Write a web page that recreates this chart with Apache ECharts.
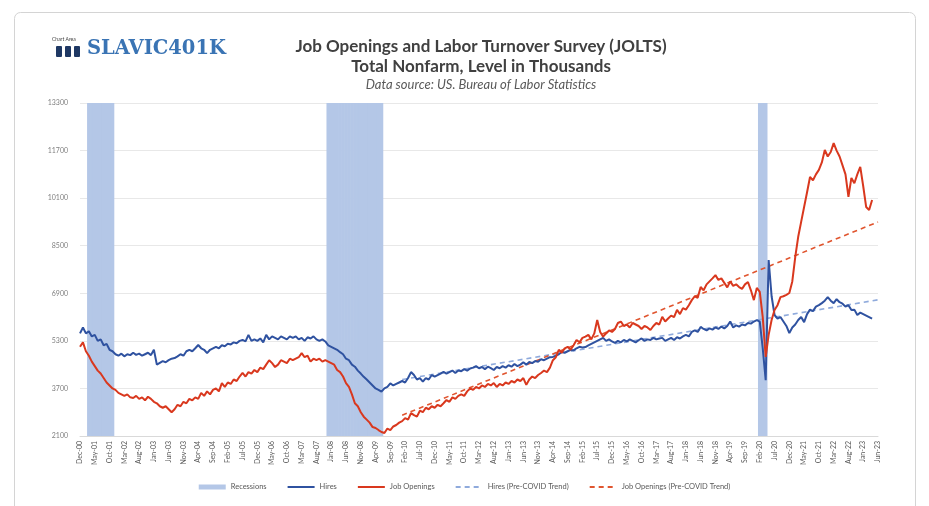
<!DOCTYPE html>
<html>
<head>
<meta charset="utf-8">
<script src="https://cdn.jsdelivr.net/npm/echarts@6/dist/echarts.min.js"></script>
<style>
html,body{margin:0;padding:0;background:#fff;}
#chart{width:929px;height:506px;}
</style>
</head>
<body>
<div id="chart"></div>
<script>
// ---- categories: Dec-00 .. Jun-23 (monthly) ----
const monthNames = ['Jan','Feb','Mar','Apr','May','Jun','Jul','Aug','Sep','Oct','Nov','Dec'];
const categories = [];
for (let i = 0; i < 271; i++) {
  const t = 11 + i; // months since Jan-2000
  const y = 2000 + Math.floor(t / 12);
  categories.push(monthNames[t % 12] + '-' + String(y % 100).padStart(2, '0'));
}

// ---- y-axis ticks ----
const yTicks = [2100, 3700, 5300, 6900, 8500, 10100, 11700, 13300];

// ---- recession periods (NBER) ----
const recessions = [['Mar-01', 'Nov-01'], ['Dec-07', 'Jun-09'], ['Feb-20', 'Apr-20']];

// ---- Hires, thousands ----
const hires = [
  5550,
  5750, 5550, 5620, 5450, 5500, 5300, 5350, 5150, 5200, 5000, 4950, 4850, // 2001
  4800, 4870, 4780, 4850, 4820, 4900, 4830, 4870, 4800, 4850, 4900, 4820, // 2002
  5000, 4500, 4560, 4620, 4580, 4650, 4700, 4720, 4780, 4850, 4800, 4950, // 2003
  5000, 4950, 5050, 5160, 5050, 5000, 4890, 5000, 5050, 5100, 5050, 5150, // 2004
  5120, 5200, 5180, 5250, 5220, 5300, 5330, 5280, 5500, 5300, 5350, 5300, // 2005
  5380, 5250, 5500, 5350, 5450, 5400, 5350, 5450, 5400, 5350, 5450, 5400, // 2006
  5450, 5350, 5400, 5300, 5420, 5380, 5450, 5350, 5300, 5350, 5280, 5150, // 2007
  5100, 5050, 5000, 4920, 4850, 4700, 4650, 4500, 4430, 4300, 4200, 4090, // 2008
  4000, 3900, 3800, 3700, 3650, 3590, 3700, 3750, 3870, 3800, 3850, 3900, // 2009
  3950, 3900, 4050, 4250, 4150, 4000, 4050, 3930, 4050, 4000, 4150, 4100, // 2010
  4150, 4200, 4260, 4200, 4250, 4300, 4220, 4300, 4280, 4350, 4300, 4370, // 2011
  4400, 4450, 4380, 4420, 4350, 4430, 4380, 4320, 4420, 4380, 4450, 4400, // 2012
  4480, 4430, 4520, 4450, 4500, 4580, 4500, 4590, 4550, 4620, 4600, 4680, // 2013
  4650, 4700, 4750, 4760, 4800, 4850, 4930, 4900, 4950, 5000, 4980, 5050, // 2014
  5100, 5080, 5090, 5150, 5200, 5250, 5300, 5350, 5400, 5300, 5350, 5280, // 2015
  5230, 5300, 5250, 5330, 5280, 5350, 5300, 5250, 5320, 5380, 5300, 5350, // 2016
  5330, 5400, 5350, 5380, 5400, 5300, 5350, 5400, 5330, 5420, 5380, 5450, // 2017
  5500, 5450, 5600, 5650, 5600, 5770, 5700, 5650, 5720, 5680, 5750, 5700, // 2018
  5780, 5720, 5800, 5950, 5750, 5820, 5780, 5850, 5820, 5900, 5880, 5950, // 2019
  6000, 5950, 5050, 3980, 8020, 6800, 6170, 6050, 6100, 5950, 5800, 5560, // 2020
  5750, 5850, 6000, 6100, 5930, 6200, 6350, 6300, 6450, 6500, 6570, 6650, // 2021
  6770, 6650, 6570, 6700, 6600, 6550, 6450, 6500, 6340, 6350, 6170, 6250, // 2022
  6200, 6150, 6100, 6050, null, null                                      // 2023
];

// ---- Job Openings, thousands ----
const openings = [
  5100,
  5250, 4950, 4800, 4600, 4450, 4300, 4200, 4050, 3900, 3800, 3700, 3650, // 2001
  3550, 3500, 3450, 3500, 3400, 3380, 3450, 3350, 3400, 3300, 3420, 3350, // 2002
  3250, 3200, 3100, 3050, 3100, 3000, 2900, 3000, 3150, 3100, 3250, 3200, // 2003
  3350, 3300, 3400, 3350, 3550, 3450, 3600, 3500, 3650, 3700, 3600, 3880, // 2004
  3750, 3900, 3850, 4000, 3950, 4100, 4220, 4100, 4250, 4200, 4320, 4250, // 2005
  4400, 4350, 4500, 4650, 4550, 4420, 4500, 4650, 4600, 4550, 4700, 4650, // 2006
  4700, 4750, 4890, 4750, 4800, 4600, 4700, 4650, 4700, 4600, 4650, 4600, // 2007
  4550, 4500, 4320, 4250, 4100, 3880, 3750, 3500, 3200, 3100, 2900, 2750, // 2008
  2650, 2550, 2400, 2370, 2300, 2235, 2200, 2350, 2300, 2420, 2470, 2550, // 2009
  2600, 2700, 2650, 2870, 2800, 2750, 2950, 2900, 3050, 3000, 3100, 3050, // 2010
  3150, 3100, 3200, 3310, 3250, 3400, 3350, 3450, 3500, 3450, 3600, 3700, // 2011
  3650, 3750, 3700, 3800, 3750, 3850, 3800, 3880, 3750, 3850, 3800, 3900, // 2012
  3850, 3950, 3900, 4000, 3950, 4050, 3820, 4000, 4100, 4050, 4150, 4220, // 2013
  4300, 4250, 4400, 4650, 4750, 5000, 4900, 5050, 5100, 5000, 5150, 5330, // 2014
  5250, 5400, 5440, 5500, 5350, 5550, 6000, 5600, 5440, 5550, 5650, 5600, // 2015
  5700, 5900, 5950, 5800, 5850, 5750, 5900, 5850, 5800, 5700, 5800, 5750, // 2016
  5665, 5800, 5900, 5850, 6110, 5950, 6050, 6150, 6100, 6340, 6200, 6400, // 2017
  6350, 6500, 6670, 6800, 6750, 7110, 7000, 7200, 7300, 7400, 7510, 7350, // 2018
  7400, 7250, 7100, 7300, 7150, 7200, 7110, 7050, 7200, 7280, 7000, 6670, // 2019
  7080, 6950, 6100, 4760, 5500, 6000, 6340, 6500, 6770, 6800, 6850, 6910, // 2020
  7300, 8120, 8800, 9300, 9800, 10300, 10810, 10700, 10900, 11050, 11300, 11720, // 2021
  11500, 11650, 11950, 11700, 11500, 11200, 10900, 10140, 10780, 10600, 10900, 11150, // 2022
  10500, 9800, 9700, 10040, null, null                                    // 2023
];

// ---- Pre-COVID linear trends (endpoints) ----
const hiresTrend = [['Jan-10', 4000], ['Jun-23', 6680]];
const openingsTrend = [['Jan-10', 2800], ['Jun-23', 9300]];

// recession flag table built from periods
const recessionFlags = categories.map(() => null);
recessions.forEach(([a, b]) => {
  const s = categories.indexOf(a), e = categories.indexOf(b);
  for (let i = s; i <= e; i++) recessionFlags[i] = 1;
});

const chart = echarts.init(document.getElementById('chart'));
const font = 'Lato, "Open Sans", sans-serif';
const noSymbol = { opacity: 0 };

chart.setOption({
  animation: false,
  backgroundColor: '#ffffff',
  textStyle: { fontFamily: font },
  title: {
    text: 'Job Openings and Labor Turnover Survey (JOLTS)\nTotal Nonfarm, Level in Thousands',
    subtext: 'Data source: US. Bureau of Labor Statistics',
    left: 476,
    top: 32,
    textAlign: 'center',
    itemGap: 1,
    textStyle: { fontSize: 17, fontWeight: 'bold', color: '#404040', lineHeight: 20, fontFamily: font },
    subtextStyle: { fontSize: 13, fontStyle: 'italic', color: '#595959', fontFamily: font }
  },
  graphic: [
    { type: 'rect', silent: true, shape: { x: 14.5, y: 12.5, width: 901, height: 510, r: 6 },
      style: { fill: 'none', stroke: '#d4d4d4', lineWidth: 1 } },
    { type: 'text', left: 52, top: 37, style: { text: 'Chart Area', fontSize: 5, fill: '#404040', fontFamily: font } },
    { type: 'rect', shape: { x: 56, y: 46, width: 6, height: 11, r: 1 }, style: { fill: '#1f3864' } },
    { type: 'rect', shape: { x: 65, y: 46, width: 6, height: 11, r: 1 }, style: { fill: '#1f3864' } },
    { type: 'rect', shape: { x: 74, y: 46, width: 6, height: 11, r: 1 }, style: { fill: '#1f3864' } },
    { type: 'text', left: 87, top: 39, style: { text: 'SLAVIC401K', fontSize: 19.5, fontWeight: 'bold',
      fill: '#3a74b4', fontFamily: '"DejaVu Serif", "Liberation Serif", serif' } }
  ],
  legend: {
    bottom: 10,
    left: 'center',
    itemWidth: 27,
    itemHeight: 5,
    itemGap: 20,
    textStyle: { fontSize: 7.5, color: '#595959', fontFamily: font },
    data: [
      { name: 'Recessions', icon: 'rect' },
      { name: 'Hires', itemStyle: noSymbol },
      { name: 'Job Openings', itemStyle: noSymbol },
      { name: 'Hires (Pre-COVID Trend)', itemStyle: noSymbol },
      { name: 'Job Openings (Pre-COVID Trend)', itemStyle: noSymbol }
    ]
  },
  grid: { left: 80, right: 51, top: 103, bottom: 70, containLabel: false },
  xAxis: {
    type: 'category',
    data: categories,
    boundaryGap: false,
    axisLine: { lineStyle: { color: '#d9d9d9' } },
    axisTick: { show: false },
    axisLabel: { interval: 4, rotate: 90, fontSize: 7, color: '#595959', margin: 5 }
  },
  yAxis: [
    {
      type: 'value', min: yTicks[0], max: yTicks[yTicks.length - 1], interval: 1600,
      axisLine: { show: false }, axisTick: { show: false },
      axisLabel: { fontSize: 7, color: '#7f7f7f', margin: 12, formatter: (v) => String(v) },
      splitLine: { lineStyle: { color: '#e8e8e8', width: 1 } }
    },
    { type: 'value', min: 0, max: 1, show: false }
  ],
  series: [
    {
      name: 'Recessions', type: 'bar', yAxisIndex: 1, data: recessionFlags,
      barWidth: 3.6, barGap: '-100%',
      itemStyle: { color: '#b4c7e7' }, z: 1, silent: true
    },
    {
      name: 'Hires', type: 'line', data: hires, symbol: 'none',
      lineStyle: { color: '#2f52a0', width: 2 }, itemStyle: { color: '#2f52a0' }, z: 3
    },
    {
      name: 'Job Openings', type: 'line', data: openings, symbol: 'none',
      lineStyle: { color: '#d9381e', width: 2 }, itemStyle: { color: '#d9381e' }, z: 4
    },
    {
      name: 'Hires (Pre-COVID Trend)', type: 'line', data: hiresTrend, symbol: 'none',
      lineStyle: { color: '#8faadc', width: 1.6, type: [5, 4] }, itemStyle: { color: '#8faadc' }, z: 2
    },
    {
      name: 'Job Openings (Pre-COVID Trend)', type: 'line', data: openingsTrend, symbol: 'none',
      lineStyle: { color: '#e0552f', width: 1.6, type: [5, 4] }, itemStyle: { color: '#e0552f' }, z: 2
    }
  ]
});
</script>
</body>
</html>
